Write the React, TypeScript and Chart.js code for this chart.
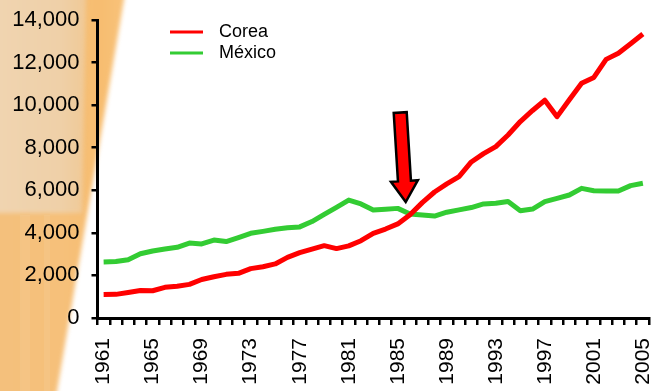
import { useEffect, useRef } from 'react';
import { Chart, registerables } from 'chart.js';

Chart.register(...registerables);

// Years on the category axis
const years = [
  '1961', '1962', '1963', '1964', '1965', '1966', '1967', '1968', '1969', '1970',
  '1971', '1972', '1973', '1974', '1975', '1976', '1977', '1978', '1979', '1980',
  '1981', '1982', '1983', '1984', '1985', '1986', '1987', '1988', '1989', '1990',
  '1991', '1992', '1993', '1994', '1995', '1996', '1997', '1998', '1999', '2000',
  '2001', '2002', '2003', '2004', '2005',
];

// GDP per capita series
const corea = [
  1100, 1110, 1200, 1290, 1280, 1440, 1490, 1580, 1810, 1940,
  2050, 2100, 2320, 2410, 2540, 2850, 3070, 3240, 3400, 3260,
  3390, 3630, 3980, 4180, 4420, 4850, 5420, 5920, 6300, 6640,
  7330, 7720, 8050, 8600, 9230, 9750, 10230, 9460, 10250, 11030,
  11300, 12150, 12440, 12880, 13340,
];
const mexico = [
  2630, 2650, 2740, 3020, 3150, 3240, 3320, 3520, 3480, 3660,
  3590, 3780, 3980, 4070, 4170, 4240, 4280, 4530, 4870, 5200,
  5540, 5360, 5070, 5110, 5150, 4890, 4840, 4790, 4970, 5080,
  5190, 5360, 5390, 5470, 5040, 5120, 5470, 5620, 5780, 6090,
  5980, 5970, 5970, 6220, 6330,
];

const seriesLabels = ['Corea', 'México'];
const seriesColors = ['#FF0000', '#33CC33'];

const yMin = 0;
const yMax = 14000;
const yStep = 2000;
const labelEvery = 4;

// Callout arrow marking where the two series cross (category index / value)
const arrowTail = { index: 24.2, value: 9650 };
const arrowTip = { index: 24.65, value: 5450 };

const FONT = '"Liberation Sans", Arial, Helvetica, sans-serif';

const backdrop = {
  id: 'backdrop',
  beforeDraw(chart: any) {
    const { ctx, width, height } = chart;
    ctx.save();
    ctx.fillStyle = '#ffffff';
    ctx.fillRect(0, 0, width, height);

    // orange slanted band on the left
    ctx.filter = 'blur(2px)';
    ctx.beginPath();
    ctx.moveTo(-6, -6);
    ctx.lineTo(125, -6);
    ctx.lineTo(56, height + 6);
    ctx.lineTo(-6, height + 6);
    ctx.closePath();
    const g = ctx.createLinearGradient(0, 0, 125, 0);
    g.addColorStop(0, '#F4C07C');
    g.addColorStop(0.5, '#F6C07A');
    g.addColorStop(0.8, '#F7BD70');
    g.addColorStop(1, '#F8C27A');
    ctx.fillStyle = g;
    ctx.fill();

    // lighter upper panel
    ctx.beginPath();
    ctx.moveTo(-6, -6);
    ctx.lineTo(86, -6);
    ctx.lineTo(82, 213);
    ctx.lineTo(-6, 213);
    ctx.closePath();
    const p = ctx.createLinearGradient(0, 0, 86, 0);
    p.addColorStop(0, '#F0D4B0');
    p.addColorStop(0.7, '#EFD0A8');
    p.addColorStop(1, '#F0C996');
    ctx.fillStyle = p;
    ctx.fill();
    ctx.filter = 'none';

    // faint vertical streaks
    ctx.fillStyle = 'rgba(255, 255, 255, 0.07)';
    ctx.fillRect(20, 215, 10, height - 215);
    ctx.fillRect(44, 215, 6, height - 215);
    ctx.restore();
  },
};

const legendBox = {
  id: 'legendBox',
  afterDraw(chart: any) {
    const { ctx } = chart;
    ctx.save();
    chart.data.datasets.forEach((ds: any, i: number) => {
      const y = 32 + i * 21;
      ctx.strokeStyle = ds.borderColor;
      ctx.lineWidth = 3;
      ctx.beginPath();
      ctx.moveTo(170, y);
      ctx.lineTo(203, y);
      ctx.stroke();
      ctx.fillStyle = '#000';
      ctx.font = `18px ${FONT}`;
      ctx.textBaseline = 'middle';
      ctx.textAlign = 'left';
      ctx.fillText(ds.label, 219, y);
    });
    ctx.restore();
  },
};

const crossArrow = {
  id: 'crossArrow',
  afterDatasetsDraw(chart: any) {
    const { ctx } = chart;
    const xs = chart.scales.x;
    const ys = chart.scales.y;
    const tx = xs.getPixelForValue(arrowTail.index);
    const ty = ys.getPixelForValue(arrowTail.value);
    const hx = xs.getPixelForValue(arrowTip.index);
    const hy = ys.getPixelForValue(arrowTip.value);
    const dx = hx - tx;
    const dy = hy - ty;
    const len = Math.hypot(dx, dy);
    const ux = dx / len;
    const uy = dy / len;
    const px = -uy;
    const py = ux;
    const shaft = 6.5;
    const head = 13.5;
    const headLen = 21;
    const bx = hx - ux * headLen;
    const by = hy - uy * headLen;
    ctx.save();
    ctx.beginPath();
    ctx.moveTo(tx + px * shaft, ty + py * shaft);
    ctx.lineTo(bx + px * shaft, by + py * shaft);
    ctx.lineTo(bx + px * head, by + py * head);
    ctx.lineTo(hx, hy);
    ctx.lineTo(bx - px * head, by - py * head);
    ctx.lineTo(bx - px * shaft, by - py * shaft);
    ctx.lineTo(tx - px * shaft, ty - py * shaft);
    ctx.closePath();
    ctx.fillStyle = '#FF0000';
    ctx.fill();
    ctx.lineWidth = 2.5;
    ctx.lineJoin = 'miter';
    ctx.strokeStyle = '#000';
    ctx.stroke();
    ctx.restore();
  },
};

export default function App() {
  const canvasRef = useRef<HTMLCanvasElement | null>(null);

  useEffect(() => {
    if (!canvasRef.current) return;
    const chart = new Chart(canvasRef.current, {
      type: 'line',
      data: {
        labels: years,
        datasets: [
          {
            label: seriesLabels[0],
            data: corea,
            borderColor: seriesColors[0],
            backgroundColor: seriesColors[0],
            borderWidth: 5,
            pointRadius: 0,
            tension: 0,
            borderJoinStyle: 'round',
          },
          {
            label: seriesLabels[1],
            data: mexico,
            borderColor: seriesColors[1],
            backgroundColor: seriesColors[1],
            borderWidth: 5,
            pointRadius: 0,
            tension: 0,
            borderJoinStyle: 'round',
          },
        ],
      },
      options: {
        animation: false,
        responsive: true,
        maintainAspectRatio: false,
        layout: { padding: { top: 20, right: 4, left: 0, bottom: 0 } },
        plugins: {
          legend: { display: false },
          tooltip: { enabled: false },
        },
        scales: {
          x: {
            type: 'category',
            offset: true,
            afterFit(scale: any) {
              scale.height = 73;
              scale.paddingLeft = 0;
              scale.paddingRight = 0;
            },
            grid: {
              display: true,
              offset: true,
              drawOnChartArea: false,
              drawTicks: true,
              tickLength: 7,
              color: '#000',
              lineWidth: 2.5,
            },
            border: { display: true, color: '#000', width: 3 },
            ticks: {
              autoSkip: false,
              maxRotation: 90,
              minRotation: 90,
              padding: 13,
              color: '#000',
              font: { family: FONT, size: 21 },
              callback: (_v: any, i: number) => (i % labelEvery === 0 ? years[i] : ''),
            },
          },
          y: {
            min: yMin,
            max: yMax,
            afterFit(scale: any) {
              scale.width = 97.5;
              scale.paddingTop = 0;
              scale.paddingBottom = 0;
            },
            grid: {
              display: true,
              drawOnChartArea: false,
              drawTicks: true,
              tickLength: 6,
              color: '#000',
              lineWidth: 2.5,
            },
            border: { display: true, color: '#000', width: 3 },
            ticks: {
              stepSize: yStep,
              padding: 12,
              color: '#000',
              font: { family: FONT, size: 22 },
              callback: (v: any) => Number(v).toLocaleString('en-US'),
            },
          },
        },
      },
      plugins: [backdrop, crossArrow, legendBox],
    });
    return () => chart.destroy();
  }, []);

  return (
    <div style={{ position: 'absolute', left: 0, top: 0, width: 653, height: 391 }}>
      <canvas ref={canvasRef} />
    </div>
  );
}
